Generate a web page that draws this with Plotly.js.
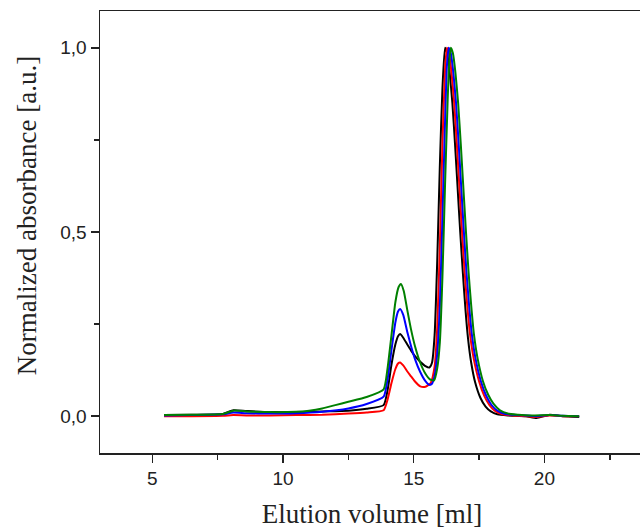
<!DOCTYPE html>
<html>
<head>
<meta charset="utf-8">
<script src="https://cdn.plot.ly/plotly-3.0.1.min.js"></script>
<style>
html,body{margin:0;padding:0;overflow:hidden;background:#fff;width:640px;height:531px;}
#chart{width:680px;height:531px;}
</style>
</head>
<body>
<div id="chart"></div>
<script>
// Elution volume [ml] and normalized absorbance per series
const xBlack = [5.45, 6.5, 7.7, 8.1, 8.6, 9.5, 10.5, 11.5, 12.5, 13.2, 13.85, 14.0, 14.15, 14.3, 14.4, 14.48, 14.6, 14.75, 14.9, 15.05, 15.25, 15.45, 15.6, 15.7, 15.8, 15.9, 16.0, 16.1, 16.2, 16.28, 16.38, 16.48, 16.58, 16.68, 16.78, 16.88, 16.98, 17.08, 17.2, 17.35, 17.55, 17.75, 17.95, 18.2, 18.6, 19.3, 19.7, 20.2, 20.7, 21.33];
const yBlack = [0.003, 0.004, 0.006, 0.016, 0.014, 0.011, 0.011, 0.013, 0.015, 0.02, 0.03, 0.07, 0.14, 0.195, 0.217, 0.223, 0.213, 0.195, 0.178, 0.163, 0.148, 0.136, 0.132, 0.145, 0.22, 0.42, 0.68, 0.89, 1.0, 0.985, 0.93, 0.85, 0.74, 0.62, 0.50, 0.39, 0.29, 0.21, 0.145, 0.092, 0.05, 0.026, 0.013, 0.005, 0.002, 0.0, -0.005, 0.004, 0.0, -0.002];

const xRed = [5.45, 6.5, 7.7, 8.1, 8.6, 9.5, 10.5, 11.5, 12.5, 13.2, 13.85, 14.0, 14.15, 14.3, 14.4, 14.48, 14.6, 14.75, 14.9, 15.05, 15.25, 15.45, 15.65, 15.8, 15.9, 16.0, 16.1, 16.2, 16.27, 16.35, 16.45, 16.55, 16.65, 16.75, 16.85, 16.95, 17.05, 17.15, 17.3, 17.5, 17.7, 17.9, 18.1, 18.4, 18.8, 19.3, 19.7, 20.2, 20.7, 21.33];
const yRed = [0.0, 0.0, 0.001, 0.003, 0.002, 0.002, 0.003, 0.004, 0.007, 0.010, 0.016, 0.045, 0.09, 0.128, 0.143, 0.146, 0.138, 0.122, 0.108, 0.094, 0.081, 0.080, 0.09, 0.135, 0.24, 0.46, 0.74, 0.94, 1.0, 0.985, 0.93, 0.85, 0.74, 0.62, 0.50, 0.39, 0.30, 0.225, 0.155, 0.095, 0.055, 0.03, 0.015, 0.005, 0.002, 0.0, -0.002, 0.002, 0.0, 0.0];

const xBlue = [5.45, 6.5, 7.7, 8.1, 8.6, 9.5, 10.5, 11.5, 12.5, 13.2, 13.85, 14.0, 14.15, 14.3, 14.4, 14.48, 14.6, 14.75, 14.9, 15.05, 15.25, 15.45, 15.6, 15.7, 15.8, 15.9, 16.0, 16.1, 16.2, 16.27, 16.34, 16.42, 16.52, 16.62, 16.72, 16.82, 16.92, 17.02, 17.12, 17.22, 17.37, 17.57, 17.77, 17.97, 18.2, 18.5, 18.9, 19.3, 19.7, 20.2, 20.7, 21.33];
const yBlue = [0.002, 0.003, 0.005, 0.010, 0.008, 0.007, 0.008, 0.012, 0.021, 0.033, 0.053, 0.10, 0.18, 0.255, 0.284, 0.291, 0.275, 0.23, 0.19, 0.155, 0.12, 0.095, 0.085, 0.088, 0.11, 0.17, 0.30, 0.54, 0.80, 0.95, 1.0, 0.985, 0.93, 0.85, 0.74, 0.62, 0.50, 0.39, 0.30, 0.225, 0.155, 0.095, 0.056, 0.031, 0.015, 0.006, 0.003, 0.002, 0.0, 0.003, 0.001, 0.0];

const xGreen = [5.45, 6.5, 7.7, 8.1, 8.6, 9.5, 10.5, 11.0, 11.5, 12.0, 12.5, 13.2, 13.85, 14.0, 14.15, 14.3, 14.42, 14.51, 14.62, 14.75, 14.9, 15.05, 15.25, 15.45, 15.62, 15.78, 15.9, 16.0, 16.1, 16.2, 16.3, 16.36, 16.42, 16.5, 16.6, 16.7, 16.8, 16.9, 17.0, 17.1, 17.2, 17.3, 17.45, 17.65, 17.85, 18.05, 18.3, 18.6, 19.0, 19.5, 20.2, 20.7, 21.33];
const yGreen = [0.003, 0.004, 0.006, 0.015, 0.013, 0.011, 0.012, 0.015, 0.021, 0.03, 0.039, 0.052, 0.073, 0.13, 0.22, 0.31, 0.35, 0.359, 0.34, 0.29, 0.235, 0.19, 0.145, 0.115, 0.1, 0.097, 0.13, 0.2, 0.38, 0.63, 0.86, 0.96, 1.0, 0.985, 0.93, 0.85, 0.74, 0.62, 0.50, 0.39, 0.30, 0.225, 0.155, 0.095, 0.058, 0.034, 0.016, 0.007, 0.004, 0.002, 0.003, 0.001, 0.0];

const seriesNames = ['black', 'red', 'blue', 'green'];
const seriesColors = ['#000000', '#ff0000', '#0000ff', '#008000'];
const seriesX = [xBlack, xRed, xBlue, xGreen];
const seriesY = [yBlack, yRed, yBlue, yGreen];

const xTitle = 'Elution volume [ml]';
const yTitle = 'Normalized absorbance [a.u.]';

const traces = seriesNames.map((n, i) => ({
  x: seriesX[i], y: seriesY[i], name: n, type: 'scatter', mode: 'lines',
  line: {color: seriesColors[i], width: 2, shape: 'spline', smoothing: 0.5},
  hoverinfo: 'skip'
}));

const tickFont = {family: '"Liberation Sans", Arial, sans-serif', size: 19, color: '#222'};
const titleFont = {family: '"Liberation Serif", "Times New Roman", serif', size: 27, color: '#222'};

const layout = {
  width: 680, height: 531,
  margin: {l: 100, r: 36, t: 11, b: 78},
  paper_bgcolor: '#fff', plot_bgcolor: '#fff',
  showlegend: false,
  separators: ', ',
  xaxis: {
    range: [3, 23.81], tick0: 0, dtick: 5,
    ticks: 'outside', ticklen: 8, tickwidth: 1.5, tickcolor: '#222',
    showline: true, linecolor: '#222', linewidth: 1.5, mirror: true,
    showgrid: false, zeroline: false,
    tickfont: tickFont,
    minor: {dtick: 2.5, tick0: 0, ticks: 'outside', ticklen: 5, tickwidth: 1.5, tickcolor: '#222', showgrid: false},
    title: {text: xTitle, font: titleFont, standoff: 16}
  },
  yaxis: {
    range: [-0.1, 1.1], tick0: 0, dtick: 0.5, tickformat: '.1f',
    ticks: 'outside', ticklen: 8, tickwidth: 1.5, tickcolor: '#222',
    showline: true, linecolor: '#222', linewidth: 1.5, mirror: true,
    showgrid: false, zeroline: false,
    tickfont: tickFont,
    minor: {dtick: 0.25, tick0: 0, ticks: 'outside', ticklen: 5, tickwidth: 1.5, tickcolor: '#222', showgrid: false}
  },
  annotations: [{
    text: yTitle, font: titleFont, textangle: -90, showarrow: false,
    xref: 'paper', yref: 'paper', x: -0.134, y: 0.536, xanchor: 'center', yanchor: 'middle'
  }]
};

Plotly.newPlot('chart', traces, layout, {staticPlot: true, displayModeBar: false});
</script>
</body>
</html>
